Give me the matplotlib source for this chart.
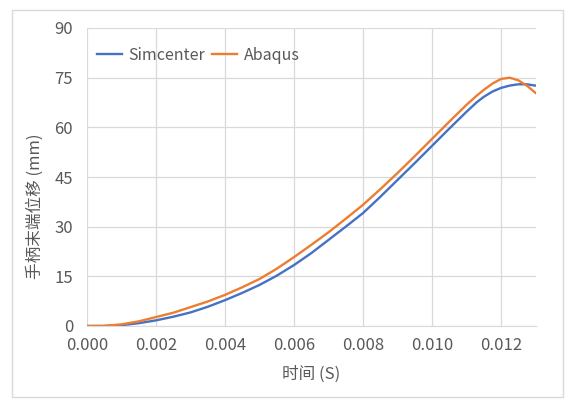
import matplotlib
matplotlib.use('Agg')
import matplotlib.pyplot as plt
from matplotlib.patches import Rectangle

plt.rcParams['font.family'] = ['Noto Sans CJK SC', 'DejaVu Sans']

# 读图得到的数据
t_sim = [0, 0.0005, 0.001, 0.0015, 0.002, 0.0025, 0.003, 0.0035, 0.004, 0.0045,
         0.005, 0.0055, 0.006, 0.0065, 0.007, 0.0075, 0.008, 0.0085, 0.009, 0.0095,
         0.010, 0.0105, 0.011, 0.0113, 0.0115, 0.01175, 0.012, 0.01225, 0.0125,
         0.01275, 0.013]
y_sim = [0, 0, 0.25, 0.85, 1.7, 2.8, 4.1, 5.8, 7.8, 10.0,
         12.4, 15.2, 18.4, 22.0, 26.0, 30.0, 34.1, 39.0, 44.1, 49.2,
         54.4, 59.6, 64.7, 67.6, 69.2, 70.8, 71.9, 72.6, 73.0,
         73.0, 72.6]

t_abq = [0, 0.0005, 0.001, 0.0015, 0.002, 0.0025, 0.003, 0.0035, 0.004, 0.0045,
         0.005, 0.0055, 0.006, 0.0065, 0.007, 0.0075, 0.008, 0.0085, 0.009, 0.0095,
         0.010, 0.0105, 0.011, 0.0113, 0.0115, 0.01175, 0.012, 0.01225, 0.0125,
         0.01275, 0.013]
y_abq = [0, 0.05, 0.5, 1.4, 2.7, 4.0, 5.7, 7.4, 9.4, 11.7,
         14.2, 17.3, 20.8, 24.5, 28.3, 32.4, 36.6, 41.3, 46.2, 51.3,
         56.5, 61.7, 66.8, 69.6, 71.3, 73.2, 74.6, 75.0, 74.2,
         72.6, 70.4]

x_ticks = [0, 0.002, 0.004, 0.006, 0.008, 0.010, 0.012]
y_ticks = [0, 15, 30, 45, 60, 75, 90]

grey_txt = '#595959'
grid_c = '#d9d9d9'

fig = plt.figure(figsize=(5.74, 4.04), dpi=100)
ax = fig.add_axes([87 / 574, 1 - 326 / 404, (535.5 - 87) / 574, (326 - 28) / 404])

ax.plot(t_sim, y_sim, color='#4472c4', lw=1.7, label='Simcenter')
ax.plot(t_abq, y_abq, color='#ed7d31', lw=1.7, label='Abaqus')

ax.set_xlim(0, 0.013)
ax.set_ylim(0, 90)
ax.set_xticks(x_ticks)
ax.set_xticklabels(['%.3f' % v for v in x_ticks])
ax.set_yticks(y_ticks)
ax.grid(True, color=grid_c, lw=0.9)
ax.set_axisbelow(True)
for s in ['top', 'right', 'left']:
    ax.spines[s].set_visible(False)
ax.spines['bottom'].set_color(grid_c)
ax.tick_params(length=0, colors=grey_txt, labelsize=12)
ax.tick_params(axis='x', pad=8)
ax.tick_params(axis='y', pad=10)

fig.text(311 / 574, 1 - 374 / 404, '时间 (S)', ha='center', va='center',
         fontsize=12, color=grey_txt)
fig.text(35 / 574, 1 - 206 / 404, '手柄末端位移 (mm)', ha='center', va='center',
         rotation=90, fontsize=12, color=grey_txt)

leg = ax.legend(loc='upper left', ncol=2, frameon=False, fontsize=11.5,
                bbox_to_anchor=(0.0, 0.97), handlelength=1.6, handletextpad=0.4,
                columnspacing=0.4, borderaxespad=0.2)
for txt in leg.get_texts():
    txt.set_color(grey_txt)

# 图表外框
fig.patches.append(Rectangle((12 / 574, 1 - 397 / 404), (563 - 12) / 574, (397 - 10) / 404,
                             transform=fig.transFigure, fill=False, ec='#d9d9d9', lw=1))

fig.savefig('out.png', dpi=100)
